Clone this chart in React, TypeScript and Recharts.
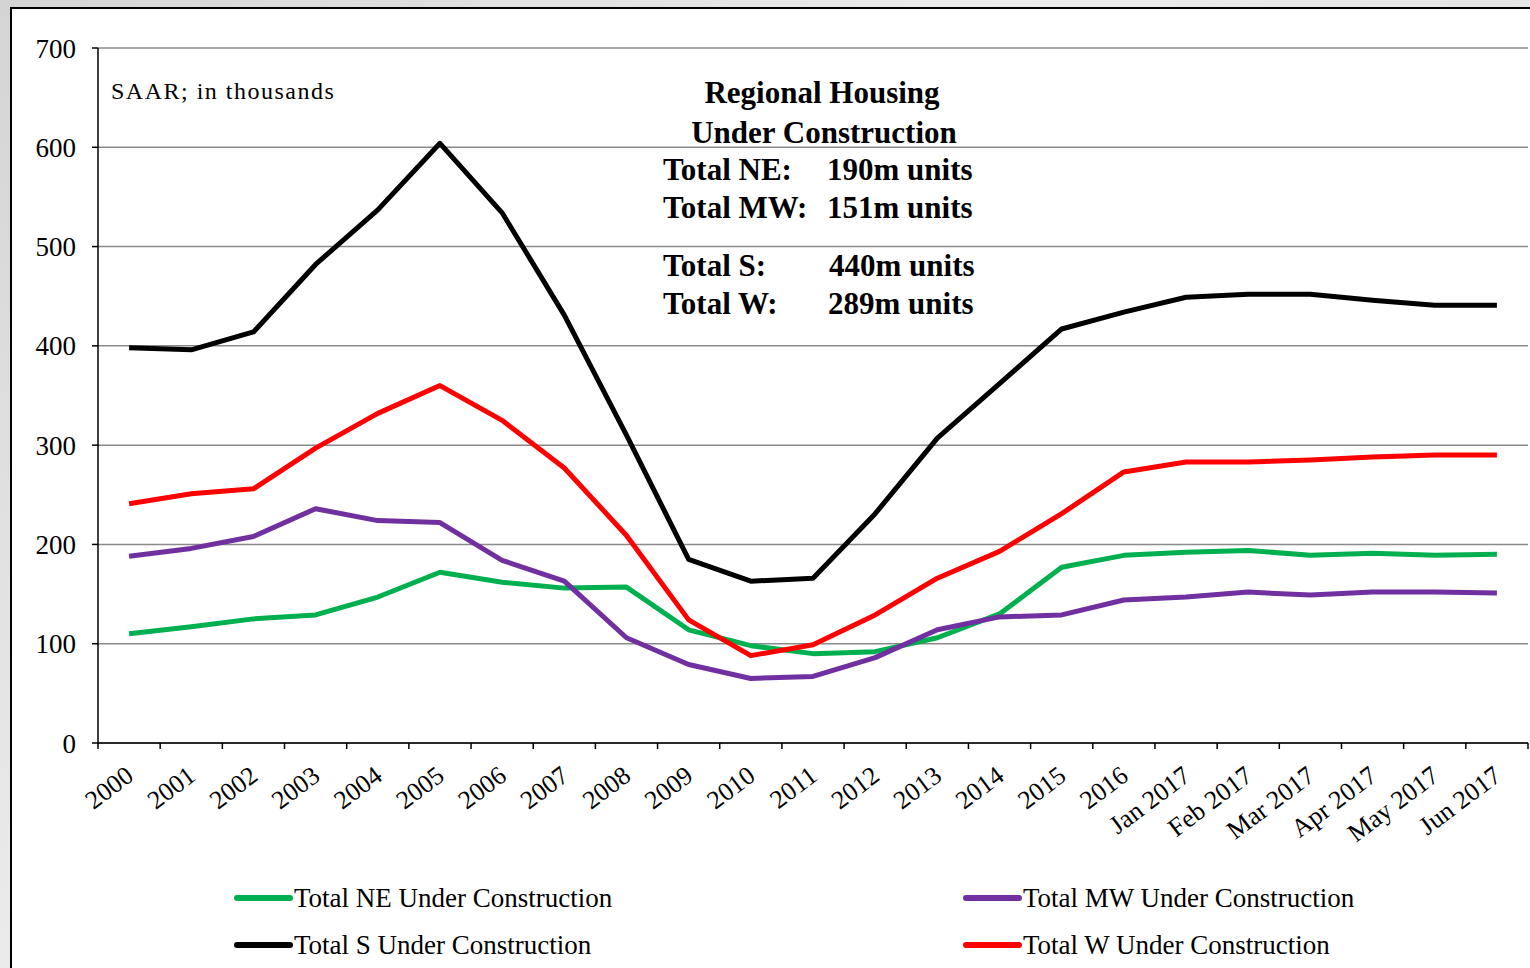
import React from 'react';
import { LineChart, Line, XAxis, YAxis, CartesianGrid } from 'recharts';

const categories = ['2000','2001','2002','2003','2004','2005','2006','2007','2008','2009','2010','2011','2012','2013','2014','2015','2016','Jan 2017','Feb 2017','Mar 2017','Apr 2017','May 2017','Jun 2017'];
const totalNE = [110,117,125,129,147,172,162,156,157,114,98,90,92,106,130,177,189,192,194,189,191,189,190];
const totalMW = [188,196,208,236,224,222,184,163,106,79,65,67,86,114,127,129,144,147,152,149,152,152,151];
const totalS = [398,396,414,482,537,604,534,431,310,185,163,166,231,307,362,417,434,449,452,452,446,441,441];
const totalW = [241,251,256,297,332,360,325,277,209,124,88,99,129,166,193,231,273,283,283,285,288,290,290];
const yTicks = [0,100,200,300,400,500,600,700];

const series = [
  { key: 'ne', name: 'Total NE Under Construction', color: '#00b050', values: totalNE },
  { key: 'mw', name: 'Total MW Under Construction', color: '#7030a0', values: totalMW },
  { key: 's', name: 'Total S Under Construction', color: '#000000', values: totalS },
  { key: 'w', name: 'Total W Under Construction', color: '#ff0000', values: totalW },
];

const summaryRows = [
  { label: 'Total NE:', value: '190m units', valueX: 827, y: 180 },
  { label: 'Total MW:', value: '151m units', valueX: 827, y: 218 },
  { label: 'Total S:', value: '440m units', valueX: 829, y: 276 },
  { label: 'Total W:', value: '289m units', valueX: 828, y: 314 },
];

const data = categories.map((c, i) => {
  const row: any = { cat: c };
  series.forEach((s) => { row[s.key] = s.values[i]; });
  return row;
});

const FONT = '"Liberation Serif", "Times New Roman", serif';

const XTick = (props: any) => {
  const { x, y, payload, index, visibleTicksCount, width } = props;
  let step = 0;
  if (typeof width === 'number' && visibleTicksCount) step = width / visibleTicksCount;
  else if (payload && payload.offset) step = payload.offset * 2;
  const half = step / 2;
  const isLast = index === visibleTicksCount - 1;
  return (
    <g>
      <line x1={x - half} x2={x - half} y1={y - 6} y2={y} stroke="#000" strokeWidth={1.5} />
      {isLast && <line x1={x + half} x2={x + half} y1={y - 6} y2={y} stroke="#000" strokeWidth={1.5} />}
      <text
        x={x + 6}
        y={y + 30}
        textAnchor="end"
        transform={`rotate(-37, ${x + 6}, ${y + 30})`}
        fontFamily={FONT}
        fontSize={26}
        fill="#000"
      >
        {payload.value}
      </text>
    </g>
  );
};

export default function App() {
  return (
    <div style={{ position: 'absolute', left: 0, top: 0, width: 1530, height: 968, overflow: 'hidden', background: 'linear-gradient(135deg, #d4d4d4 0%, #ececec 40%, #d9d9d9 100%)' }}>
      <div style={{ position: 'absolute', left: 10, top: 7, width: 1530, height: 980, background: '#fff', borderLeft: '2px solid #000', borderTop: '2px solid #000' }} />
      <div style={{ position: 'absolute', left: 0, top: 0 }}>
        <LineChart width={1530} height={968} data={data} margin={{ top: 48, right: 2, bottom: 0, left: 0 }}>
          <CartesianGrid vertical={false} stroke="#8a8a8a" strokeWidth={1.5} />
          <XAxis
            dataKey="cat"
            scale="band"
            interval={0}
            height={225}
            tickSize={6}
            tickMargin={0}
            tickLine={false}
            axisLine={{ stroke: '#000', strokeWidth: 1.5 }}
            tick={<XTick />}
          />
          <YAxis
            width={98}
            domain={[0, 700]}
            ticks={yTicks}
            interval={0}
            tickSize={6}
            tickMargin={16}
            axisLine={{ stroke: '#000', strokeWidth: 1.5 }}
            tickLine={{ stroke: '#000', strokeWidth: 1.5 }}
            tick={{ fontFamily: FONT, fontSize: 27, fill: '#000' }}
          />
          {series.map((s) => (
            <Line
              key={s.key}
              dataKey={s.key}
              name={s.name}
              stroke={s.color}
              strokeWidth={5}
              dot={false}
              activeDot={false}
              strokeLinejoin="round"
              isAnimationActive={false}
            />
          ))}
        </LineChart>
      </div>
      <svg width={1530} height={968} style={{ position: 'absolute', left: 0, top: 0, pointerEvents: 'none' }}>
        <text x={111} y={99} fontFamily={FONT} fontSize={24} letterSpacing={1.5} fill="#000">SAAR; in thousands</text>
        <text x={822} y={103} textAnchor="middle" fontFamily={FONT} fontSize={31} fontWeight="bold" fill="#000">Regional Housing</text>
        <text x={824} y={143} textAnchor="middle" fontFamily={FONT} fontSize={31} fontWeight="bold" fill="#000">Under Construction</text>
        {summaryRows.map((r) => (
          <g key={r.label}>
            <text x={663} y={r.y} fontFamily={FONT} fontSize={31} fontWeight="bold" fill="#000">{r.label}</text>
            <text x={r.valueX} y={r.y} fontFamily={FONT} fontSize={31} fontWeight="bold" fill="#000">{r.value}</text>
          </g>
        ))}
        {series.map((s, i) => {
          const col = i % 2;
          const row = Math.floor(i / 2);
          const lx = col === 0 ? 237 : 966;
          const ly = row === 0 ? 898 : 945;
          return (
            <g key={s.key}>
              <line x1={lx} x2={lx + 53} y1={ly} y2={ly} stroke={s.color} strokeWidth={6} strokeLinecap="round" />
              <text x={lx + 57} y={ly + 9} fontFamily={FONT} fontSize={27} fill="#000">{s.name}</text>
            </g>
          );
        })}
      </svg>
    </div>
  );
}
